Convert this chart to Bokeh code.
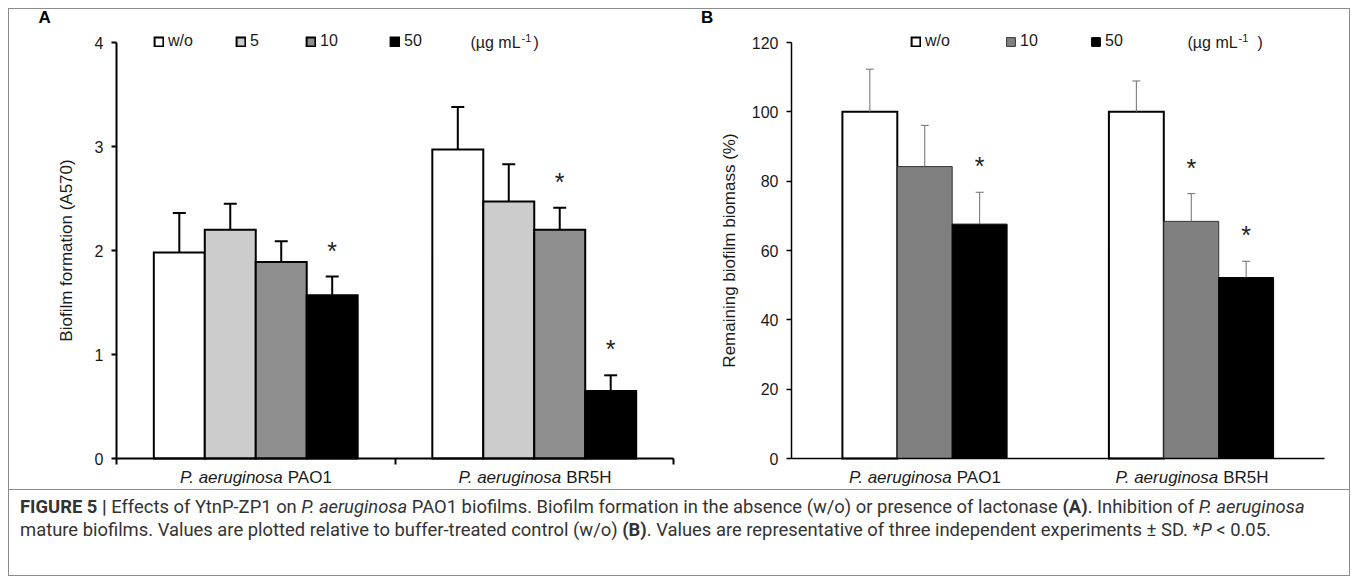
from bokeh.plotting import figure
from bokeh.models import (Range1d, FixedTicker, Whisker, TeeHead, Legend, LegendItem,
                          Label, Div, ColumnDataSource, LinearAxis)
from bokeh.layouts import row, column
from bokeh.embed import file_html
from bokeh.resources import INLINE
from bokeh.core.properties import value

# ---------------- data ----------------
species = "P. aeruginosa"
strains = ["PAO1", "BR5H"]

# Panel A: biofilm formation (A570)
a_doses = ["w/o", "5", "10", "50"]
a_wo = [1.98, 2.97]
a_5 = [2.20, 2.47]
a_10 = [1.89, 2.20]
a_50 = [1.57, 0.65]
a_wo_sd = [0.38, 0.41]
a_5_sd = [0.25, 0.36]
a_10_sd = [0.20, 0.21]
a_50_sd = [0.18, 0.15]
a_sig = [[False, False], [False, False], [False, True], [True, True]]  # per dose, per strain
a_colors = ["#ffffff", "#cccccc", "#8f8f8f", "#000000"]
a_yticks = [0, 1, 2, 3, 4]
a_ylabel = "Biofilm formation (A570)"

# Panel B: remaining biofilm biomass (%)
b_doses = ["w/o", "10", "50"]
b_wo = [100.0, 100.0]
b_10 = [84.2, 68.4]
b_50 = [67.6, 52.2]
b_wo_sd = [12.3, 8.9]
b_10_sd = [11.9, 8.0]
b_50_sd = [9.2, 4.7]
b_sig = [[False, False], [False, True], [True, True]]
b_colors = ["#ffffff", "#808080", "#000000"]
b_yticks = [0, 20, 40, 60, 80, 100, 120]
b_ylabel = "Remaining biofilm biomass (%)"

unit_text = "(µg mL"
unit_sup = "-1"

FONT = "Liberation Sans"
TXT = "#1a1a1a"
FIG_H = 480
TOP_PX, BOT_PX = 33, 449


def make_panel(width, ax_left, ax_right, ymax, yticks, ylabel, axis_w, lbl_standoff, xticks_minor):
    # frame covers the whole figure; axes are pinned at x=0 / y=0 with bounds
    ppu_x = (ax_right - ax_left) / 2.0
    ppu_y = (BOT_PX - TOP_PX) / ymax
    xr = Range1d(-ax_left / ppu_x, 2 + (width - ax_right) / ppu_x)
    yr = Range1d(-(FIG_H - BOT_PX) / ppu_y, ymax + TOP_PX / ppu_y)
    p = figure(width=width, height=FIG_H, x_range=xr, y_range=yr,
               x_axis_type=None, y_axis_type=None,
               output_backend="svg", toolbar_location=None, min_border=0)
    p.xgrid.visible = False
    p.ygrid.visible = False
    p.outline_line_color = None

    ya = LinearAxis(fixed_location=0, bounds=(0, ymax), ticker=FixedTicker(ticks=yticks))
    ya.axis_line_color = "black"
    ya.axis_line_width = axis_w
    ya.major_tick_line_color = "black"
    ya.major_tick_line_width = axis_w
    ya.major_tick_out = 5
    ya.major_tick_in = 0
    ya.minor_tick_line_color = None
    ya.major_label_text_font = FONT
    ya.major_label_text_font_size = "16px"
    ya.major_label_text_color = TXT
    ya.major_label_standoff = 8
    ya.axis_label = ylabel
    ya.axis_label_text_font = FONT
    ya.axis_label_text_font_size = "17px"
    ya.axis_label_text_font_style = "normal"
    ya.axis_label_text_color = TXT
    ya.axis_label_standoff = lbl_standoff
    p.add_layout(ya, "left")

    xa = LinearAxis(fixed_location=0, bounds=(0, 2),
                    ticker=FixedTicker(ticks=[0.5, 1.5], minor_ticks=xticks_minor))
    xa.major_label_overrides = {0.5: "", 1.5: ""}
    xa.major_tick_line_color = None
    xa.minor_tick_line_color = "black" if xticks_minor else None
    xa.minor_tick_line_width = axis_w
    xa.minor_tick_out = 6
    xa.minor_tick_in = 0
    xa.axis_line_color = "black"
    xa.axis_line_width = axis_w
    p.add_layout(xa, "below")
    return p


def bars(p, doses, means, sds, colors, sig, width, lws, lcols, err_w, err_col, cap, star_off):
    n = len(doses)
    renderers = []
    for i, d in enumerate(doses):
        xs = [k + 0.5 + (i - (n - 1) / 2) * width for k in range(len(strains))]
        top = [m + s for m, s in zip(means[i], sds[i])]
        src = ColumnDataSource(dict(x=xs, top=means[i], upper=top, lower=means[i]))
        r = p.vbar(x="x", top="top", bottom=0, width=width, source=src,
                   fill_color=colors[i], line_color=lcols[i], line_width=lws[i],
                   line_join="miter")
        renderers.append(r)
        w = Whisker(base="x", upper="upper", lower="lower", source=src,
                    dimension="height", line_color=err_col, line_width=err_w,
                    upper_head=TeeHead(size=cap, line_color=err_col, line_width=err_w),
                    lower_head=None, level="annotation")
        p.add_layout(w)
        sx = [x for x, s in zip(xs, sig[i]) if s]
        sy = [t for t, s in zip(top, sig[i]) if s]
        if sx:
            p.text(x=sx, y=sy, text=["*"] * len(sx), text_align="center",
                   text_baseline="alphabetic", y_offset=star_off,
                   text_font=value(FONT), text_font_size="25px", text_color="#222222")
    return renderers


def cat_labels(p):
    for k, s in enumerate(strains):
        p.add_layout(Label(x=k + 0.5, y=0, text=species, x_offset=27, y_offset=-19,
                           text_align="right", text_baseline="middle",
                           text_font=FONT, text_font_size="17px",
                           text_font_style="italic", text_color=TXT))
        p.add_layout(Label(x=k + 0.5, y=0, text=s, x_offset=32, y_offset=-19,
                           text_align="left", text_baseline="middle",
                           text_font=FONT, text_font_size="17px", text_color=TXT))


def legends(p, doses, renderers, xs):
    for d, r, x in zip(doses, renderers, xs):
        lg = Legend(items=[LegendItem(label=d, renderers=[r])],
                    location=(x, FIG_H - TOP_PX - 8),
                    orientation="horizontal", glyph_width=11, glyph_height=11,
                    label_standoff=4, padding=0, margin=0, spacing=0,
                    border_line_color=None, background_fill_alpha=0,
                    label_text_font=FONT, label_text_font_size="16px",
                    label_text_color=TXT, label_height=16)
        p.add_layout(lg)


def unit_label(p, x, y, close_off):
    p.add_layout(Label(x=x, y=y, text=unit_text, text_baseline="middle", text_align="left",
                       text_font=FONT, text_font_size="16px", text_color=TXT))
    p.add_layout(Label(x=x, y=y, x_offset=51, y_offset=5, text=unit_sup, text_baseline="middle",
                       text_font=FONT, text_font_size="11px", text_color=TXT))
    p.add_layout(Label(x=x, y=y, x_offset=close_off, text=")", text_baseline="middle",
                       text_font=FONT, text_font_size="16px", text_color=TXT))


def panel_letter(p, x, y, t):
    p.add_layout(Label(x=x, y=y, y_offset=25, text=t, text_baseline="middle",
                       text_font=FONT, text_font_size="17px", text_font_style="bold",
                       text_color="black"))


# ---------------- panel A ----------------
pA = make_panel(672, 107, 664, 4, a_yticks, a_ylabel, 2, 16, [0, 1, 2])
rA = bars(pA, a_doses, [a_wo, a_5, a_10, a_50], [a_wo_sd, a_5_sd, a_10_sd, a_50_sd],
          a_colors, a_sig, 0.183, [2, 2, 2, 2], ["black"] * 4, 2, "black", 13, -26)
cat_labels(pA)
legends(pA, a_doses, rA, [144, 226, 296, 380])
unit_label(pA, 1.271, 4, 63)
panel_letter(pA, -0.28, 4, "A")

# ---------------- panel B ----------------
pB = make_panel(668, 110, 643, 120, b_yticks, b_ylabel, 1.5, 10, [])
rB = bars(pB, b_doses, [b_wo, b_10, b_50], [b_wo_sd, b_10_sd, b_50_sd],
          b_colors, b_sig, 0.206, [2, 1, 1], ["black", "#333333", "black"], 1, "#6e6e6e", 8, -26)
cat_labels(pB)
legends(pB, b_doses, rB, [229, 324, 409])
unit_label(pB, 1.486, 120, 70)
panel_letter(pB, -0.34, 120, "B")

# ---------------- caption ----------------
caption = Div(
    text=("<b>FIGURE 5 |</b> Effects of YtnP-ZP1 on <i>P. aeruginosa</i> PAO1 biofilms. "
          "Biofilm formation in the absence (w/o) or presence of lactonase <b>(A)</b>. "
          "Inhibition of <i>P. aeruginosa</i><br>"
          "mature biofilms. Values are plotted relative to buffer-treated control (w/o) <b>(B)</b>. "
          "Values are representative of three independent experiments \u00b1 SD. *<i>P</i> &lt; 0.05."),
    width=1340, height=86, margin=0,
    styles={"font-family": "'Roboto', sans-serif",
            "font-size": "18.4px", "line-height": "23px", "color": "#333333",
            "white-space": "nowrap", "padding-left": "11px", "padding-top": "5px",
            "border-top": "1px solid #8c8c8c", "box-sizing": "border-box"})

layout = column(row(pA, pB), caption, margin=(8, 0, 0, 8), width=1342, height=568,
                styles={"border": "1px solid #8c8c8c", "box-sizing": "border-box"})

open("out.html", "w").write(file_html(layout, INLINE))
